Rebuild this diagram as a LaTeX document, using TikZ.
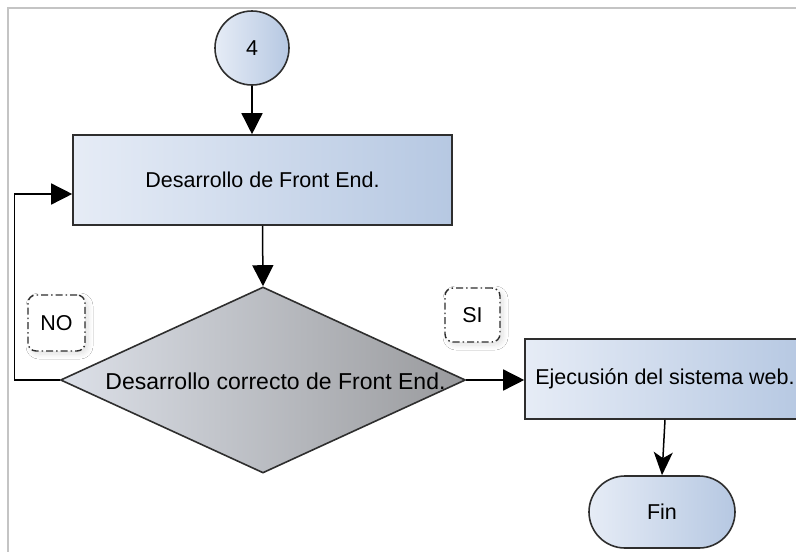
\documentclass[tikz,border=0pt]{standalone}
\usepackage{fontspec}
\setmainfont{Liberation Sans}
\usetikzlibrary{arrows.meta,shapes.geometric,shadows.blur}
\definecolor{boxL}{HTML}{E6ECF6}
\definecolor{boxR}{HTML}{B6C8E2}
\definecolor{diaL}{HTML}{DCE0E8}
\definecolor{diaR}{HTML}{999A9D}
\definecolor{edge}{HTML}{2E2E2E}
\definecolor{frameC}{HTML}{C4C4C4}
\tikzset{
  flow/.style={line width=1.5pt, draw=black},
  tri/.style={-{Triangle[length=21pt,width=21pt]}},
  stl/.style={-{Stealth[length=23pt,width=19pt,inset=6pt]}},
  procbox/.style={rectangle, draw=edge, line width=1.6pt, left color=boxL, right color=boxR,
    font=\fontsize{21.5}{25}\selectfont, inner sep=0pt},
  connector/.style={circle, draw=edge, line width=1.6pt, left color=boxL, right color=boxR,
    minimum size=74pt, inner sep=0pt, font=\fontsize{21.5}{25}\selectfont},
  terminal/.style={rectangle, rounded corners=36pt, draw=edge, line width=1.6pt,
    left color=boxL, right color=boxR, minimum width=146pt, minimum height=72pt,
    inner sep=0pt, font=\fontsize{21.5}{25}\selectfont},
  decision/.style={diamond, draw=edge, line width=1.6pt, left color=diaL, right color=diaR,
    minimum width=405pt, minimum height=186pt, aspect=2.18, inner sep=0pt},
  tag/.style={rectangle, rounded corners=8pt, draw=edge, line width=1.4pt,
    dash pattern=on 7pt off 3pt on 1.5pt off 3pt, fill=white,
    blur shadow={shadow xshift=3pt, shadow yshift=-3pt, shadow blur radius=5pt,
      shadow blur steps=8, shadow opacity=12},
    inner sep=0pt, font=\fontsize{21.5}{25}\selectfont}
}
\begin{document}
\begin{tikzpicture}[x=1pt,y=-1pt]
  \useasboundingbox (0,0) rectangle (796,552);
  \clip (0,0) rectangle (796,552);
  \fill[white] (0,0) rectangle (796,552);
  % page frame
  \draw[frameC, line width=2pt] (8,1000) -- (8,8) -- (1000,8);

  % nodes
  \node[connector] (c4) at (252,48) {4};
  \node[procbox, minimum width=379pt, minimum height=90pt] (front) at (262.5,180) {Desarrollo de Front End.};
  \node[decision] (check) at (263,380) {};
  \node[font=\fontsize{23}{27}\selectfont] (checktxt) at (275.5,381) {Desarrollo correcto de Front End.};
  \node[procbox, minimum width=280pt, minimum height=80pt] (run) at (665,379) {Ejecusión del sistema web.};
  \node[terminal] (fin) at (662,512) {Fin};

  % branch labels
  \node[tag, minimum width=57pt, minimum height=56pt] (no) at (56.5,323) {NO};
  \node[tag, minimum width=55pt, minimum height=54pt] (si) at (472.5,315) {SI};

  % connectors
  \draw[flow, tri] (c4.south) -- (c4.south |- front.north);
  \draw[flow, tri] (front.south) -- (check.north);
  \draw[flow, tri] (check.east) -- (run.west |- check.east);
  \draw[flow, stl] (run.south) -- (fin.north);
  \draw[flow, tri] (check.west) -- ++(-45,0) |- ([yshift=-14pt]front.west);
\end{tikzpicture}
\end{document}
